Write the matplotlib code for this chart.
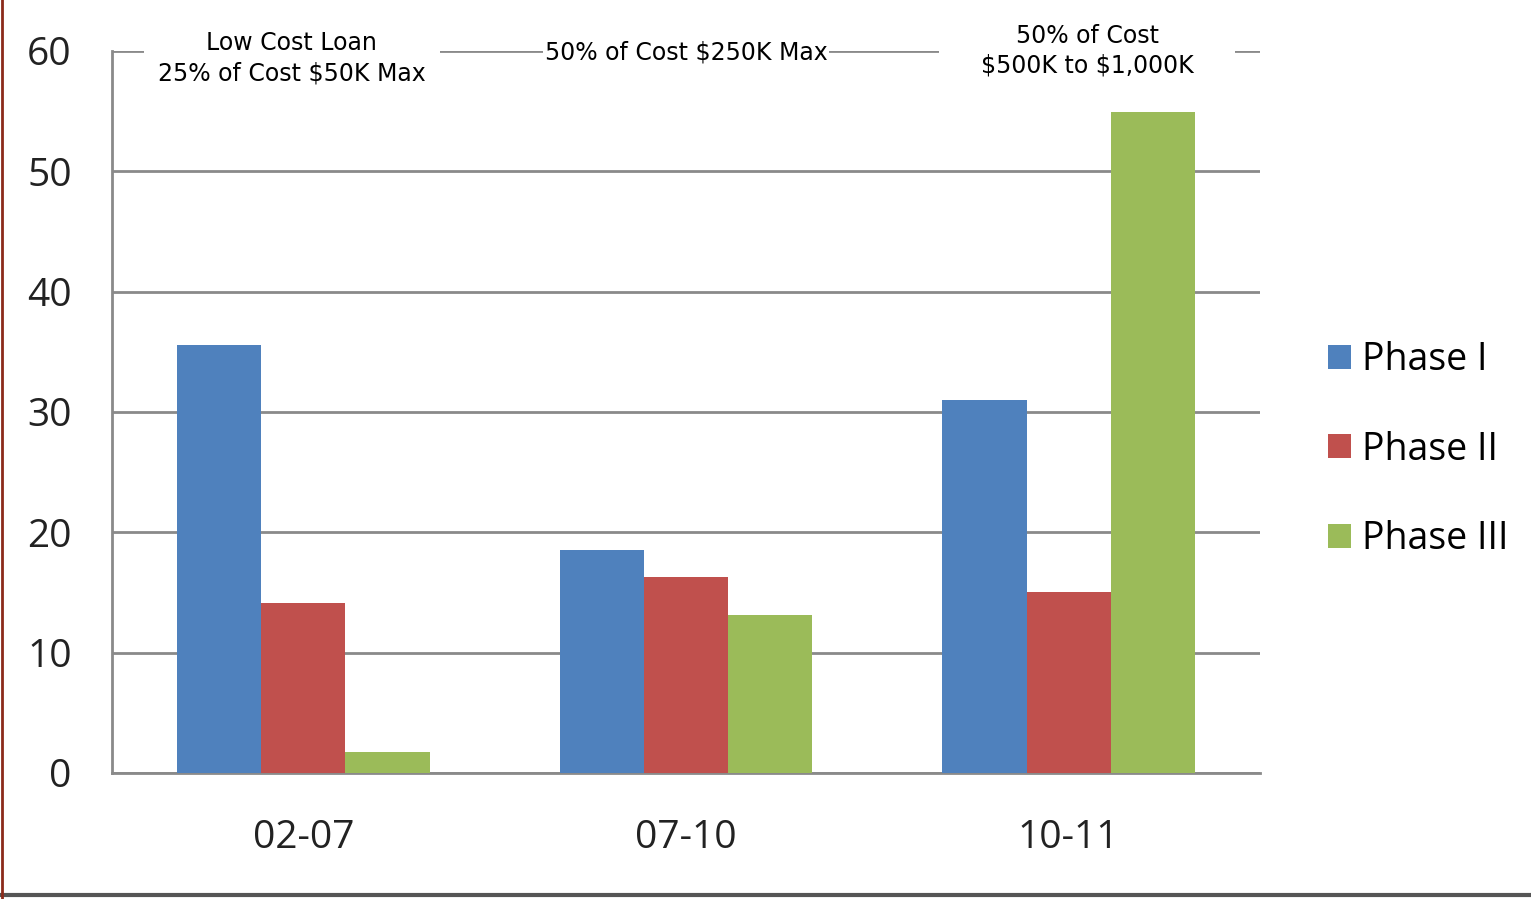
import matplotlib
matplotlib.use('Agg')
import matplotlib.pyplot as plt
import matplotlib.lines as mlines
import numpy as np

periods = ['02-07', '07-10', '10-11']
phase1 = [35.6, 18.5, 31.0]
phase2 = [14.1, 16.3, 15.0]
phase3 = [1.75, 13.1, 54.9]
series_names = ['Phase I', 'Phase II', 'Phase III']
notes = ['Low Cost Loan\n25% of Cost \\$50K Max', '50% of Cost \\$250K Max',
         '50% of Cost\n\\$500K to \\$1,000K']

colors = ['#4F81BD', '#C0504D', '#9BBB59']
tick_font = ['Open Sans', 'DejaVu Sans']

fig = plt.figure(figsize=(15.31, 8.99), dpi=100)
ax = fig.add_axes([0.0732, 0.1402, 0.7498, 0.8031])

x = np.arange(len(periods))
w = 0.22
for i, vals in enumerate([phase1, phase2, phase3]):
    ax.bar(x + (i - 1) * w, vals, width=w, color=colors[i],
           label=series_names[i], zorder=3)

ax.set_xlim(-0.5, 2.5)
ax.set_ylim(0, 60)
ax.set_yticks(range(0, 61, 10))
ax.set_xticks(x)
ax.set_xticklabels(periods)
ax.grid(axis='y', color='#8a8a8a', linewidth=2)
ax.set_axisbelow(True)

for s in ['top', 'right']:
    ax.spines[s].set_visible(False)
for s in ['left', 'bottom']:
    ax.spines[s].set_color('#8a8a8a')
    ax.spines[s].set_linewidth(2)

ax.tick_params(axis='both', length=0, labelsize=28, colors='#222222')
ax.tick_params(axis='y', pad=29)
ax.tick_params(axis='x', pad=33)
for lab in ax.get_xticklabels() + ax.get_yticklabels():
    lab.set_family(tick_font)

# notes on the top gridline, white box hides the line behind the text
# (kept under the bars so the tall green bar is not covered)
note_x = [-0.03, 1.0, 2.048]
note_y = [59.4, 59.9, 60.0]
note_pad = [10, 1, 30]
for nx, ny, t, p in zip(note_x, note_y, notes, note_pad):
    ax.text(nx, ny, t, ha='center', va='center', fontsize=17,
            family='DejaVu Sans', linespacing=1.3, zorder=2, clip_on=False,
            bbox=dict(facecolor='white', edgecolor='none', pad=p))

leg = ax.legend(loc='center left', bbox_to_anchor=(1.03, 0.448), frameon=False,
                handlelength=0.6, handleheight=0.6, handletextpad=0.3,
                labelspacing=1.37, prop={'family': tick_font, 'size': 27})

# picture frame lines
fig.add_artist(mlines.Line2D([0, 1], [0.005, 0.005], color='#555555', lw=3,
                             transform=fig.transFigure))
fig.add_artist(mlines.Line2D([0.0015, 0.0015], [0, 1], color='#8B2A1A', lw=2,
                             transform=fig.transFigure))

fig.savefig('out.png', dpi=100)
